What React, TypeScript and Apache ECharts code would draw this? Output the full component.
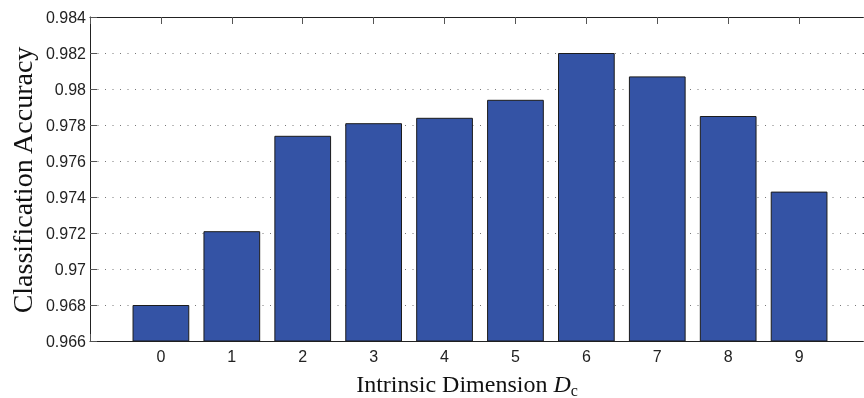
import React, { useEffect, useRef } from "react";
import * as echarts from "echarts";

const categories = ["0", "1", "2", "3", "4", "5", "6", "7", "8", "9"];
const xPositions = [0, 1, 2, 3, 4, 5, 6, 7, 8, 9];
const accuracy = [0.968, 0.9721, 0.9774, 0.9781, 0.9784, 0.9794, 0.982, 0.9807, 0.9785, 0.9743];
const yMin = 0.966;
const yMax = 0.984;
const yStep = 0.002;
const xMin = -1;
const xMax = 10;
const yTitle = "Classification Accuracy";
const xTitleMain = "Intrinsic Dimension ";

export default function App() {
  const ref = useRef<HTMLDivElement>(null);
  useEffect(() => {
    const chart = echarts.init(ref.current!, null, { renderer: "svg" });
    const axisLine = { show: true, onZero: false, lineStyle: { color: "#222", width: 1 } };
    const tick = { show: true, inside: true, length: 7, lineStyle: { color: "#555", width: 1 } };
    const labelFont = { color: "#222", fontSize: 16, fontFamily: "Liberation Sans, Arial, sans-serif" };
    chart.setOption({
      animation: false,
      grid: { left: 90, top: 17, width: 780, height: 324, containLabel: false, outerBoundsMode: "none" },
      xAxis: [
        {
          type: "value",
          position: "bottom",
          min: xMin,
          max: xMax,
          interval: 1,
          axisLine,
          axisTick: tick,
          splitLine: { show: false },
          axisLabel: {
            ...labelFont,
            margin: 7,
            formatter: (v: number) => (v >= 0 && v < categories.length ? categories[v] : ""),
          },
        },
        {
          type: "value",
          position: "top",
          min: xMin,
          max: xMax,
          interval: 1,
          axisLine,
          axisTick: tick,
          splitLine: { show: false },
          axisLabel: { show: false },
        },
      ],
      yAxis: [
        {
          type: "value",
          position: "left",
          min: yMin,
          max: yMax,
          interval: yStep,
          axisLine,
          axisTick: tick,
          splitLine: { show: true, lineStyle: { color: "#777", width: 1, type: [1, 6.5] } },
          axisLabel: {
            ...labelFont,
            margin: 4,
            formatter: (v: number) => String(parseFloat(v.toFixed(3))),
          },
        },
        {
          type: "value",
          position: "right",
          min: yMin,
          max: yMax,
          interval: yStep,
          axisLine: { show: false, onZero: false },
          axisTick: tick,
          splitLine: { show: false },
          axisLabel: { show: false },
        },
      ],
      series: [
        {
          type: "bar",
          xAxisIndex: 0,
          yAxisIndex: 0,
          clip: true,
          barWidth: "80%",
          data: xPositions.map((x, i) => [x, accuracy[i]]),
          itemStyle: { color: "#3453A5", borderColor: "#1c1c1c", borderWidth: 1 },
        },
      ],
      graphic: [
        {
          type: "text",
          x: 22,
          y: 180,
          rotation: Math.PI / 2,
          style: {
            text: yTitle,
            fontFamily: "Liberation Serif, Times New Roman, serif",
            fontSize: 28,
            fill: "#111",
            textAlign: "center",
            textVerticalAlign: "middle",
          },
        },
        {
          type: "text",
          x: 467,
          y: 384,
          style: {
            text: "{a|" + xTitleMain + "}{b|D}{c|c}",
            textAlign: "center",
            textVerticalAlign: "middle",
            rich: {
              a: { fontFamily: "Liberation Serif, serif", fontSize: 24, fill: "#111", lineHeight: 28, verticalAlign: "middle" },
              b: { fontFamily: "Liberation Serif, serif", fontStyle: "italic", fontSize: 24, fill: "#111", lineHeight: 28, verticalAlign: "middle" },
              c: { fontFamily: "Liberation Serif, serif", fontSize: 16, fill: "#111", lineHeight: 16, verticalAlign: "bottom" },
            },
          },
        },
      ],
    });
    return () => chart.dispose();
  }, []);
  return <div ref={ref} style={{ position: "fixed", left: 0, top: 0, width: 864, height: 398 }} />;
}
